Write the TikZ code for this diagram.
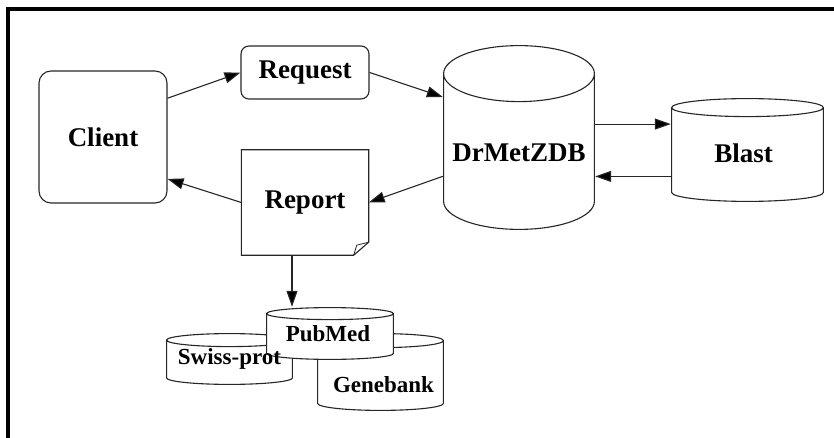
\documentclass[tikz,border=0pt]{standalone}
\usepackage{fontspec}
\setmainfont{Liberation Serif}
\usetikzlibrary{arrows.meta,calc}

\tikzset{
  line/.style={draw=black!85, line width=1.1pt},
  arr/.style={line, -{Triangle[length=16pt,width=11pt,fill=black]}},
  box/.style={line, inner sep=0pt},
  cyl/.style={inner sep=0pt, path picture={
      \draw[line, fill=white]
        let \p1=(path picture bounding box.north west),
            \p2=(path picture bounding box.south east),
            \n1={(\x2-\x1)/2-0.6pt}, \n2={#1}
        in (\x1+0.6pt,\y1-\n2-0.6pt) -- (\x1+0.6pt,\y2+\n2+0.6pt)
           arc[start angle=180, end angle=360, x radius=\n1, y radius=\n2]
           -- (\x2-0.6pt,\y1-\n2-0.6pt)
           arc[start angle=0, end angle=180, x radius=\n1, y radius=\n2]
           -- cycle
           (\x1+0.6pt,\y1-\n2-0.6pt)
           arc[start angle=180, end angle=360, x radius=\n1, y radius=\n2];
    }},
  small/.style={font=\bfseries\fontsize{23}{26}\selectfont}
}

\begin{document}
\begin{tikzpicture}[x=1pt, y=-1pt, font=\bfseries\fontsize{27}{30}\selectfont]
  \useasboundingbox (0,0) rectangle (834,438);
  % frame
  \draw[line width=4pt] (8,438) -- (8,9) -- (834,9);

  \node[box, rounded corners=12pt, minimum width=128pt, minimum height=132pt] (client) at (103,137) {Client};
  \node[box, rounded corners=8pt, minimum width=128pt, minimum height=53pt] (request) at (305,72.5) {Request};
  \node[inner sep=0pt, minimum width=127pt, minimum height=105pt] (report) at (305,202.5) {Report};
  \draw[line] (report.north west) -- (report.north east) -- ([yshift=13pt]report.south east)
    -- ([xshift=-15pt]report.south east) -- (report.south west) -- cycle;
  \draw[line, line width=0.8pt] ([xshift=-15pt]report.south east) -- ([xshift=-12pt,yshift=10pt]report.south east)
    -- ([yshift=13pt]report.south east);

  % databases
  \node[cyl=28pt, minimum width=152pt, minimum height=185pt,
    label={[yshift=-15pt]center:DrMetZDB}] (drmet) at (519,137.5) {};
  \node[cyl=9pt, minimum width=153pt, minimum height=104pt,
    label={[xshift=-4pt,yshift=-3pt]center:Blast}] (blast) at (747.5,150) {};
  \node[cyl=6.5pt, minimum width=127pt, minimum height=52pt] (swiss) at (229.5,359) {};
  \node[cyl=7pt, minimum width=127pt, minimum height=78pt,
    label={[small, xshift=3pt, yshift=-13pt]center:Genebank}] (gene) at (380.5,372) {};
  \node[cyl=6pt, minimum width=128pt, minimum height=53pt,
    label={[small, xshift=-2pt]center:PubMed}] (pubmed) at (330,333.5) {};
  \node[small, inner sep=0pt] (swisstext) at (swiss) {Swiss-prot};

  % connectors
  \draw[arr] (client.31.4) -- (request.west);
  \draw[arr] (request.east) -- (drmet.152);
  \draw[arr] (drmet.207.5) -- (report.east);
  \draw[arr] (report.west) -- (client.-33.3);
  \draw[arr] (drmet.10) -- (drmet.10 -| blast.west);
  \draw[arr] (blast.199.4) -- (blast.199.4 -| drmet.east);
  \draw[arr] ([xshift=-13pt]report.south) -- ([xshift=-13pt]report.south |- pubmed.north);
\end{tikzpicture}
\end{document}
